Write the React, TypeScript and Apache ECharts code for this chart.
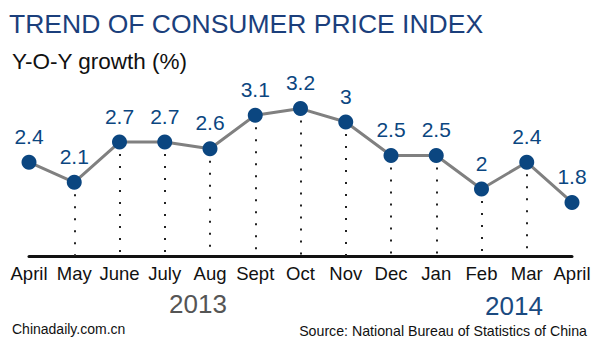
import React, { useEffect, useRef } from "react";
import * as echarts from "echarts";

const months = ["April", "May", "June", "July", "Aug", "Sept", "Oct", "Nov", "Dec", "Jan", "Feb", "Mar", "April"];
const cpi = [2.4, 2.1, 2.7, 2.7, 2.6, 3.1, 3.2, 3.0, 2.5, 2.5, 2.0, 2.4, 1.8];
const yMin = 1;
const yMax = 4;

export default function App() {
  const ref = useRef<HTMLDivElement>(null);
  useEffect(() => {
    const chart = echarts.init(ref.current!, undefined, { renderer: "svg" });
    const font = "'Liberation Sans', Arial, sans-serif";
    const dropLines = cpi
      .map((v, i) => ({ v, i }))
      .filter(({ i }) => i > 0 && i < cpi.length - 1)
      .map(({ v, i }) => [
        { coord: [i, v] },
        { coord: [i, yMin] },
      ]);
    chart.setOption({
      animation: false,
      backgroundColor: "#ffffff",
      grid: { left: 29, right: 28, top: 55, bottom: 87 },
      xAxis: {
        type: "category",
        data: months,
        boundaryGap: false,
        axisLine: { lineStyle: { color: "#111", width: 3 } },
        axisTick: { show: false },
        axisLabel: { color: "#111", fontSize: 18.5, fontFamily: font, margin: 8, interval: 0 },
      },
      yAxis: {
        type: "value",
        min: yMin,
        max: yMax,
        show: false,
        splitLine: { show: false },
      },
      series: [
        {
          type: "line",
          data: cpi,
          symbol: "circle",
          symbolSize: 15,
          lineStyle: { color: "#808080", width: 3 },
          itemStyle: { color: "#0b4680" },
          label: {
            show: true,
            position: "top",
            distance: 8,
            color: "#0b4680",
            fontSize: 21,
            fontFamily: font,
            formatter: (p: any) => String(p.value),
          },
          markLine: {
            silent: true,
            symbol: "none",
            label: { show: false },
            lineStyle: { color: "#222", type: [2, 10], width: 2 },
            data: dropLines,
            z: 1,
          },
          z: 3,
        },
      ],
      graphic: [
        {
          type: "text",
          x: 9,
          y: 24,
          style: { text: "TREND OF CONSUMER PRICE INDEX", fill: "#1b3f7c", font: `26.5px ${font}`, verticalAlign: "middle" },
        },
        {
          type: "text",
          x: 12,
          y: 61,
          style: { text: "Y-O-Y growth (%)", fill: "#111", font: `22.5px ${font}`, verticalAlign: "middle" },
        },
        {
          type: "text",
          x: 198,
          y: 304,
          style: { text: "2013", fill: "#555", font: `26px ${font}`, align: "center", verticalAlign: "middle" },
        },
        {
          type: "text",
          x: 514,
          y: 306,
          style: { text: "2014", fill: "#1b4a80", font: `26px ${font}`, align: "center", verticalAlign: "middle" },
        },
        {
          type: "text",
          x: 12,
          y: 329,
          style: { text: "Chinadaily.com.cn", fill: "#111", font: `14px ${font}`, verticalAlign: "middle" },
        },
        {
          type: "text",
          x: 587,
          y: 331,
          style: { text: "Source: National Bureau of Statistics of China", fill: "#111", font: `14.2px ${font}`, align: "right", verticalAlign: "middle" },
        },
      ],
    });
    return () => chart.dispose();
  }, []);
  return <div ref={ref} style={{ width: 600, height: 343, position: "absolute", left: 0, top: 0 }} />;
}
